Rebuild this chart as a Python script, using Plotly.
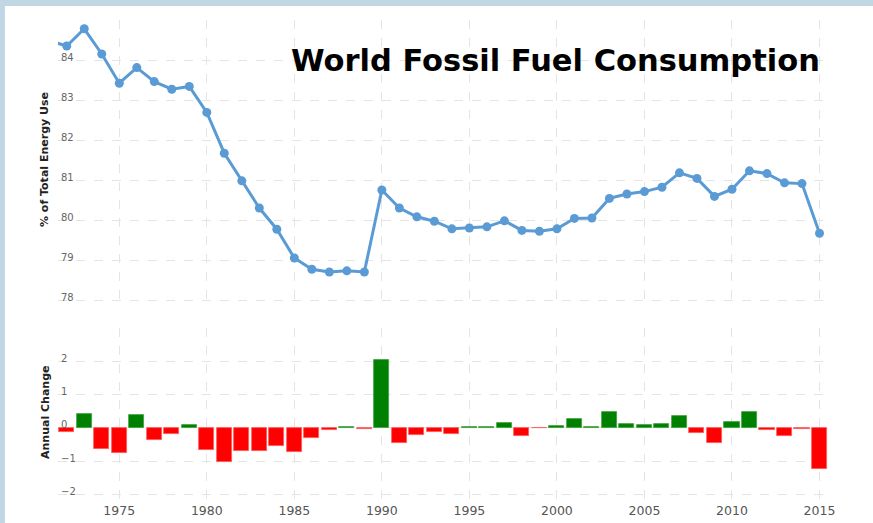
import plotly.graph_objects as go

years = list(range(1971, 2016))
fossil_share = [84.48, 84.35, 84.78, 84.15, 83.42, 83.81, 83.46, 83.27, 83.34, 82.69,
                81.67, 80.98, 80.30, 79.77, 79.05, 78.77, 78.70, 78.73, 78.70, 80.75,
                80.30, 80.08, 79.97, 79.78, 79.80, 79.83, 79.98, 79.74, 79.72, 79.78,
                80.04, 80.05, 80.54, 80.65, 80.71, 80.82, 81.18, 81.04, 80.59, 80.77,
                81.23, 81.16, 80.93, 80.91, 79.67]

change_years = list(range(1972, 2016))
annual_change = [-0.13, 0.43, -0.63, -0.76, 0.39, -0.37, -0.20, 0.07, -0.66, -1.04,
                 -0.70, -0.69, -0.55, -0.73, -0.31, -0.07, 0.03, -0.04, 2.04, -0.46,
                 -0.22, -0.12, -0.20, 0.02, 0.03, 0.15, -0.24, -0.02, 0.06, 0.26,
                 0.02, 0.49, 0.11, 0.07, 0.11, 0.37, -0.15, -0.46, 0.18, 0.47,
                 -0.08, -0.24, -0.04, -1.25]

title_text = "World Fossil Fuel Consumption"
y1_title = "% of Total Energy Use"
y2_title = "Annual Change"
y1_ticks = [78, 79, 80, 81, 82, 83, 84]
y2_ticks = [-2, -1, 0, 1, 2]
x_ticks = [1975, 1980, 1985, 1990, 1995, 2000, 2005, 2010, 2015]

bar_colors = ["#008000" if v >= 0 else "#ff0000" for v in annual_change]
bar_edges = ["#40a040" if v >= 0 else "#ff5a5a" for v in annual_change]

fig = go.Figure()
fig.add_trace(go.Scatter(
    x=years, y=fossil_share, mode="lines+markers",
    line=dict(color="#5b9bd5", width=3),
    marker=dict(size=9, color="#5b9bd5"),
    xaxis="x", yaxis="y", showlegend=False))
fig.add_trace(go.Bar(
    x=change_years, y=annual_change, width=0.86,
    marker=dict(color=bar_colors, line=dict(color=bar_edges, width=0.8)),
    xaxis="x2", yaxis="y2", showlegend=False))

grid = dict(showgrid=True, gridcolor="#e4e4e4", griddash="dash", gridwidth=1,
            zeroline=False, showline=False, ticks="", automargin=False)
xr = [1971.5, 2015.6]

fig.update_layout(
    width=873, height=523,
    margin=dict(l=58, r=43, t=20, b=22),
    paper_bgcolor="#c1d8e4", plot_bgcolor="rgba(0,0,0,0)",
    bargap=0,
    xaxis=dict(domain=[0, 1], anchor="y", range=xr, tickvals=x_ticks,
               showticklabels=False, **grid),
    yaxis=dict(domain=[0.4012, 1.0], anchor="x", range=[77.8, 85], tickvals=y1_ticks,
               ticklabelposition="inside", ticklabelshift=-3,
               tickfont=dict(family="DejaVu Sans", size=10, color="#666666"), **grid),
    xaxis2=dict(domain=[0, 1], anchor="y2", range=xr, tickvals=x_ticks,
                tickfont=dict(family="DejaVu Sans", size=12.5, color="#555555"), **grid),
    yaxis2=dict(domain=[0, 0.3597], anchor="x2", range=[-2.2, 3], tickvals=y2_ticks,
                ticklabelposition="inside", ticklabelshift=-3,
                tickfont=dict(family="DejaVu Sans", size=10, color="#666666"), **grid),
    shapes=[dict(type="rect", xref="paper", yref="paper", layer="below",
                 x0=-0.0687, x1=1.06, y0=-0.07, y1=1.029,
                 fillcolor="white", line=dict(width=0))],
    annotations=[
        dict(text="<b>" + title_text + "</b>", xref="paper", yref="paper",
             x=0.9896, y=0.9168, xanchor="right", yanchor="middle", showarrow=False,
             font=dict(family="DejaVu Sans", size=30.5, color="#000000")),
        dict(text="<b>" + y1_title + "</b>", xref="paper", yref="paper",
             x=-0.0168, y=0.709, xanchor="center", yanchor="middle", showarrow=False,
             textangle=-90, font=dict(family="DejaVu Sans", size=11, color="#222222")),
        dict(text="<b>" + y2_title + "</b>", xref="paper", yref="paper",
             x=-0.0168, y=0.185, xanchor="center", yanchor="middle", showarrow=False,
             textangle=-90, font=dict(family="DejaVu Sans", size=11, color="#222222")),
    ],
)

fig.write_html("out.html", config={"displayModeBar": False},
               post_script="document.body.style.margin='0';")
